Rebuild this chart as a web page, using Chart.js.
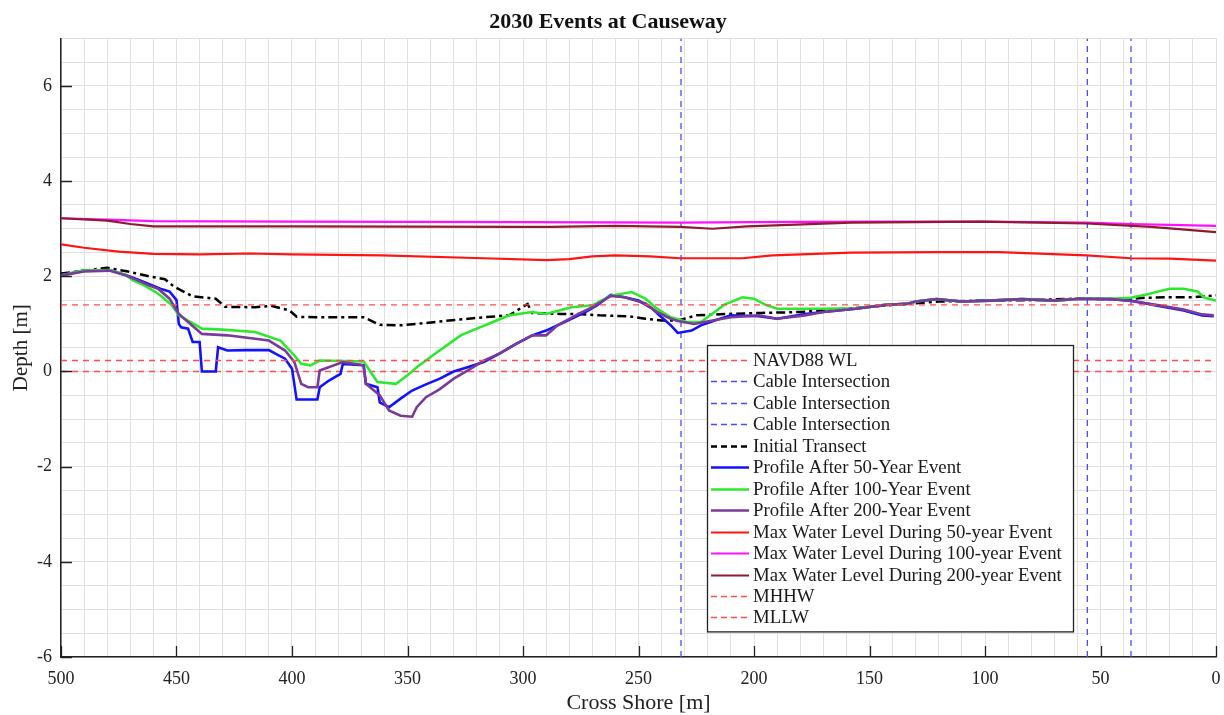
<!DOCTYPE html>
<html><head><meta charset="utf-8">
<script src="https://cdn.jsdelivr.net/npm/chart.js@4.4.1/dist/chart.umd.min.js"></script>
<style>html,body{margin:0;padding:0;background:#fff;}canvas{display:block;}</style>
</head><body>
<canvas id="c" width="1224" height="715"></canvas>
<script>
const titleText = '2030 Events at Causeway';
const xAxisLabel = 'Cross Shore [m]';
const yAxisLabel = 'Depth [m]';
const xMajorTicks = [500, 450, 400, 350, 300, 250, 200, 150, 100, 50, 0];
const yMajorTicks = [-6, -4, -2, 0, 2, 4, 6];

const navd88WL = 0;
const mhhwLevel = 1.40;
const mllwLevel = 0.23;
const cableIntersections = [231.6, 55.7, 36.8];

const initialTransect = [[500,2.06],[488,2.13],[480,2.18],[471,2.10],[461,1.99],[455,1.94],[451,1.78],[443,1.58],[433,1.53],[429,1.36],[416,1.35],[409,1.38],[401,1.28],[398,1.15],[390,1.14],[369,1.14],[362,0.98],[353,0.97],[346,1.0],[332,1.07],[317,1.14],[306,1.18],[301,1.33],[298,1.42],[296,1.23],[284,1.21],[276,1.21],[267,1.18],[254,1.16],[247,1.11],[240,1.07],[233,1.07],[225,1.18],[211,1.21],[197,1.23],[180,1.25],[160,1.32],[140,1.40],[120,1.47],[100,1.49],[80,1.50],[60,1.53],[40,1.52],[30,1.55],[20,1.56],[10,1.56],[0,1.60]];

const profile50 = [[500,2.02],[490,2.12],[479,2.13],[472,2.03],[466,1.92],[461,1.82],[457,1.74],[453,1.68],[450,1.50],[449,1.00],[448,0.93],[445,0.90],[443,0.62],[440,0.62],[439,0.0],[433,0.0],[432,0.51],[428,0.44],[420,0.45],[410,0.45],[407,0.37],[403,0.27],[400,0.06],[398,-0.59],[389,-0.59],[388,-0.33],[384,-0.19],[379,-0.05],[378,0.16],[369,0.13],[368,-0.26],[363,-0.33],[362,-0.65],[358,-0.75],[353,-0.57],[348,-0.40],[342,-0.27],[336,-0.15],[330,0.0],[324,0.09],[317,0.20],[310,0.38],[303,0.58],[296,0.76],[290,0.86],[282,1.04],[273,1.25],[268,1.39],[262,1.61],[256,1.56],[250,1.49],[244,1.32],[240,1.14],[236,0.97],[233,0.81],[227,0.86],[223,0.97],[217,1.07],[210,1.18],[198,1.16],[190,1.11],[178,1.21],[170,1.25],[156,1.32],[143,1.40],[134,1.42],[130,1.47],[121,1.52],[110,1.47],[98,1.49],[84,1.52],[70,1.49],[59,1.53],[45,1.52],[37,1.49],[26,1.39],[14,1.28],[6,1.18],[1,1.16]];

const profile100 = [[500,2.02],[490,2.12],[479,2.13],[472,2.03],[469,1.92],[464,1.81],[459,1.67],[456,1.56],[452,1.39],[449,1.18],[445,1.07],[439,0.90],[430,0.88],[416,0.83],[405,0.65],[399,0.34],[396,0.16],[392,0.13],[388,0.23],[369,0.21],[363,-0.22],[355,-0.26],[350,-0.08],[346,0.09],[339,0.34],[333,0.55],[327,0.76],[320,0.90],[313,1.04],[306,1.18],[296,1.25],[290,1.21],[279,1.35],[270,1.39],[262,1.59],[253,1.67],[247,1.53],[242,1.32],[236,1.14],[229,1.04],[223,1.04],[217,1.25],[213,1.40],[205,1.56],[200,1.53],[195,1.40],[190,1.32],[178,1.32],[170,1.32],[156,1.33],[143,1.40],[134,1.42],[130,1.47],[121,1.52],[110,1.47],[98,1.49],[84,1.52],[70,1.49],[59,1.53],[45,1.53],[37,1.55],[30,1.62],[25,1.68],[20,1.74],[14,1.74],[8,1.68],[5,1.55],[0,1.49]];

const profile200 = [[500,2.02],[490,2.10],[479,2.12],[472,2.02],[466,1.90],[462,1.81],[458,1.74],[453,1.53],[449,1.21],[445,1.04],[439,0.79],[428,0.76],[410,0.65],[403,0.44],[399,0.20],[396,-0.26],[393,-0.33],[389,-0.33],[388,0.02],[378,0.20],[369,0.13],[368,-0.26],[362,-0.50],[358,-0.82],[353,-0.93],[348,-0.95],[346,-0.75],[342,-0.54],[336,-0.37],[330,-0.15],[324,0.02],[317,0.23],[310,0.38],[303,0.58],[296,0.76],[290,0.76],[285,0.97],[276,1.21],[270,1.35],[262,1.59],[256,1.56],[247,1.43],[242,1.25],[236,1.11],[233,1.06],[226,1.0],[218,1.07],[210,1.14],[198,1.18],[190,1.11],[178,1.18],[170,1.25],[156,1.32],[143,1.40],[134,1.42],[130,1.47],[121,1.52],[110,1.47],[98,1.49],[84,1.52],[70,1.49],[59,1.53],[45,1.52],[37,1.48],[26,1.40],[14,1.30],[6,1.20],[1,1.18]];

const maxWL50 = [[500,2.67],[490,2.60],[475,2.52],[460,2.47],[440,2.46],[418,2.48],[400,2.46],[361,2.44],[317,2.38],[290,2.34],[280,2.36],[270,2.42],[260,2.44],[245,2.42],[232,2.38],[205,2.38],[192,2.44],[158,2.50],[120,2.51],[94,2.51],[56,2.44],[37,2.38],[20,2.37],[0,2.33]];
const maxWL100 = [[500,3.22],[480,3.19],[460,3.16],[400,3.15],[300,3.14],[232,3.13],[200,3.14],[150,3.15],[100,3.15],[56,3.13],[37,3.10],[20,3.08],[0,3.06]];
const maxWL200 = [[500,3.22],[480,3.17],[470,3.10],[460,3.05],[400,3.05],[300,3.04],[288,3.04],[260,3.06],[232,3.04],[218,3.00],[203,3.05],[158,3.13],[102,3.15],[56,3.11],[28,3.04],[0,2.93]];

const FONT = "'Liberation Serif', 'Times New Roman', serif";
const refRed = '#ff4d4d';
const cableBlue = '#4b4bff';

function series(label, pts, color, width, dash) {
  return { label, data: pts.map(p => ({ x: p[0], y: p[1] })), borderColor: color, backgroundColor: color,
    borderWidth: width, borderDash: dash || [], showLine: true, pointRadius: 0, fill: false, tension: 0 };
}
function hLine(label, level) {
  return series(label, [[500, level], [0, level]], refRed, 1.4, [6, 5]);
}
function vLine(label, xv) {
  return series(label, [[xv, -6], [xv, 7]], cableBlue, 1.3, [6, 5]);
}

const datasets = [
  hLine('NAVD88 WL', navd88WL),
  ...cableIntersections.map(c => vLine('Cable Intersection', c)),
  series('Initial Transect', initialTransect, '#000000', 2.5, [9, 4, 3, 4]),
  series('Profile After 50-Year Event', profile50, '#1212ff', 2.6),
  series('Profile After 100-Year Event', profile100, '#2de82d', 2.6),
  series('Profile After 200-Year Event', profile200, '#7a3a9a', 2.6),
  series('Max Water Level During 50-year Event', maxWL50, '#ff1414', 2.2),
  series('Max Water Level During 100-year Event', maxWL100, '#ff10ff', 2.2),
  series('Max Water Level During 200-year Event', maxWL200, '#8e1b2e', 2.2),
  hLine('MHHW', mhhwLevel),
  hLine('MLLW', mllwLevel)
];
datasets.forEach((d, i) => { d.order = datasets.length - i; });

const tickMarks = {
  id: 'tickMarks',
  afterDatasetsDraw(chart) {
    const { ctx, chartArea, scales } = chart;
    ctx.save();
    ctx.strokeStyle = '#222';
    ctx.lineWidth = 1.3;
    ctx.beginPath();
    xMajorTicks.forEach(v => {
      const px = Math.round(scales.x.getPixelForValue(v)) + 0.5;
      ctx.moveTo(px, chartArea.bottom); ctx.lineTo(px, chartArea.bottom - 11);
    });
    yMajorTicks.forEach(v => {
      const py = Math.round(scales.y.getPixelForValue(v)) + 0.5;
      ctx.moveTo(chartArea.left, py); ctx.lineTo(chartArea.left + 11, py);
    });
    ctx.stroke();
    ctx.restore();
  }
};

const boxLegend = {
  id: 'boxLegend',
  afterDraw(chart) {
    const { ctx } = chart;
    const left = 707, top = 345, width = 366, rowH = 21.45, firstRow = 360;
    const n = chart.data.datasets.length;
    const height = firstRow - top + (n - 1) * rowH + 14;
    ctx.save();
    ctx.fillStyle = '#fff';
    ctx.fillRect(left, top, width, height);
    ctx.strokeStyle = '#222';
    ctx.lineWidth = 1.3;
    ctx.strokeRect(left + 0.5, top + 0.5, width, height);
    ctx.font = '18.8px ' + FONT;
    ctx.textBaseline = 'middle';
    ctx.fillStyle = '#1a1a1a';
    chart.data.datasets.forEach((d, i) => {
      const y = Math.round(firstRow + i * rowH) + 0.5;
      ctx.beginPath();
      ctx.setLineDash(d.borderDash.length ? [6, 4] : []);
      ctx.strokeStyle = d.borderColor;
      ctx.lineWidth = Math.min(d.borderWidth, 2.6);
      ctx.moveTo(711, y); ctx.lineTo(749, y);
      ctx.stroke();
      ctx.setLineDash([]);
      ctx.fillText(d.label, 753, y + 0.5);
    });
    ctx.restore();
  }
};

new Chart(document.getElementById('c'), {
  type: 'scatter',
  data: { datasets },
  plugins: [tickMarks, boxLegend],
  options: {
    responsive: false,
    animation: false,
    events: [],
    layout: { padding: { left: 0, right: 8, top: 0, bottom: 0 } },
    plugins: {
      legend: { display: false },
      tooltip: { enabled: false },
      title: { display: true, text: titleText, color: '#111',
        font: { family: FONT, size: 22, weight: 'bold', lineHeight: 1.2 },
        padding: { top: 9, bottom: 3 } }
    },
    scales: {
      x: {
        type: 'linear', reverse: true, min: 0, max: 500,
        afterFit(s) { s.height = 58; s.paddingLeft = 0; s.paddingRight = 0; },
        border: { display: true, color: '#222', width: 1.5 },
        grid: { color: '#e0e0e0', lineWidth: 1, drawTicks: false },
        ticks: { stepSize: 10, autoSkip: false, maxRotation: 0, padding: 11, color: '#222',
          font: { family: FONT, size: 18 },
          callback: v => xMajorTicks.includes(v) ? String(v) : '' },
        title: { display: true, text: xAxisLabel, color: '#222',
          font: { family: FONT, size: 22 }, padding: { top: 0, bottom: -1 } }
      },
      y: {
        type: 'linear', min: -6, max: 7,
        afterFit(s) { s.width = 61; s.paddingTop = 0; s.paddingBottom = 0; },
        border: { display: true, color: '#222', width: 1.5 },
        grid: { color: '#e0e0e0', lineWidth: 1, drawTicks: false },
        ticks: { stepSize: 0.5, autoSkip: false, padding: 9, color: '#222',
          font: { family: FONT, size: 18 },
          callback: v => yMajorTicks.includes(v) ? String(v) : '' },
        title: { display: true, text: yAxisLabel, color: '#222',
          font: { family: FONT, size: 21 }, padding: { top: 9, bottom: 0 } }
      }
    }
  }
});
</script>
</body></html>
